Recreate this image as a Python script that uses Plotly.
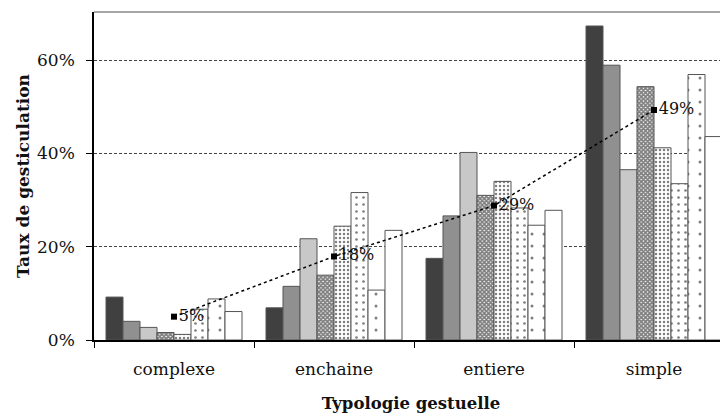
import plotly.graph_objects as go

categories = ["complexe", "enchaine", "entiere", "simple"]
series_values = [
    [9.2, 6.9, 17.5, 67.3],
    [4.0, 11.5, 26.6, 58.9],
    [2.7, 21.7, 40.2, 36.5],
    [1.6, 13.9, 31.0, 54.3],
    [1.2, 24.4, 34.0, 41.2],
    [6.6, 31.6, 28.3, 33.5],
    [8.8, 10.7, 24.6, 56.9],
    [6.1, 23.5, 27.8, 43.6],
]
mean_values = [5.0, 17.9, 28.8, 49.3]
mean_labels = ["5%", "18%", "29%", "49%"]
y_ticks = [0, 20, 40, 60]
y_tick_labels = ["0%", "20%", "40%", "60%"]

FONT = "DejaVu Serif"

styles = [
    dict(color="#404040", pattern=None),
    dict(color="#909090", pattern=None),
    dict(color="#c8c8c8", pattern=None),
    dict(color="white", pattern=dict(shape="x", size=3, solidity=0.8, fgcolor="black", bgcolor="white", fillmode="overlay")),
    dict(color="white", pattern=dict(shape=".", size=4, solidity=0.3, fgcolor="black", bgcolor="white", fillmode="overlay")),
    dict(color="white", pattern=dict(shape=".", size=7, solidity=0.12, fgcolor="black", bgcolor="white", fillmode="overlay")),
    dict(color="white", pattern=dict(shape=".", size=12, solidity=0.05, fgcolor="black", bgcolor="white", fillmode="overlay")),
    dict(color="white", pattern=None),
]

fig = go.Figure()
for i, vals in enumerate(series_values):
    st = styles[i]
    marker = dict(color=st["color"], line=dict(color="#555555", width=1))
    if st["pattern"] is not None:
        marker["pattern"] = st["pattern"]
    fig.add_trace(go.Bar(x=categories, y=vals, marker=marker, showlegend=False,
                         hoverinfo="skip"))

fig.add_trace(go.Scatter(
    x=categories, y=mean_values, mode="lines+markers+text",
    line=dict(color="black", width=1.5, dash="dot"),
    marker=dict(symbol="square", size=6, color="black"),
    text=mean_labels, textposition="middle right",
    textfont=dict(family=FONT, size=16, color="#111111"),
    showlegend=False,
))

fig.add_shape(type="line", xref="paper", yref="paper", x0=0, x1=1, y0=1, y1=1,
              line=dict(color="#888888", width=1.5))

fig.update_layout(
    width=720, height=409,
    margin=dict(l=86, r=0, t=4, b=77),
    paper_bgcolor="white", plot_bgcolor="white",
    barmode="group", bargap=0.15, bargroupgap=0,
    font=dict(family=FONT, size=17, color="#111111"),
    xaxis=dict(
        type="category", range=[-0.5, 3.4625], automargin=False,
        showline=True, linecolor="black", linewidth=1.5,
        ticks="outside", tickson="boundaries", ticklen=6, tickcolor="black",
        ticklabelstandoff=13,
        title=dict(text="<b>Typologie gestuelle</b>", font=dict(family=FONT, size=16.5), standoff=19),
        tickfont=dict(family=FONT, size=17),
        showgrid=False,
    ),
    yaxis=dict(
        range=[0, 70.3], tickvals=y_ticks, ticktext=y_tick_labels, automargin=False,
        showline=True, linecolor="black", linewidth=1.5,
        ticks="outside", ticklen=6, tickcolor="black",
        ticklabelstandoff=8,
        showgrid=True, gridcolor="#444444", griddash="3px,2px", gridwidth=1,
        zeroline=False,
        title=dict(text="<b>Taux de gesticulation</b>", font=dict(family=FONT, size=17), standoff=3),
        tickfont=dict(family=FONT, size=17),
    ),
)

fig.write_html("out.html")
